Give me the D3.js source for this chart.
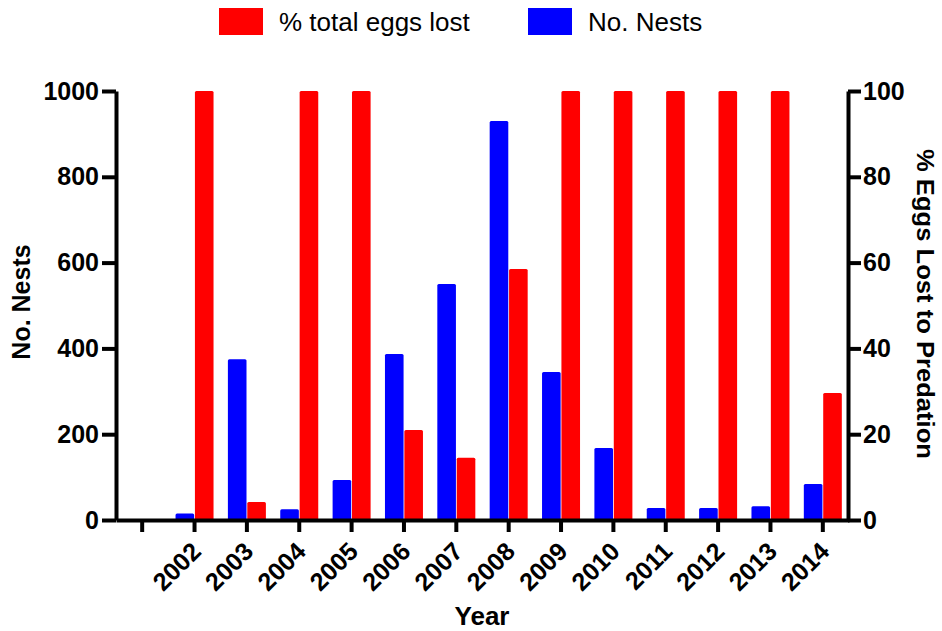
<!DOCTYPE html>
<html>
<head>
<meta charset="utf-8">
<script src="https://cdn.jsdelivr.net/npm/d3@7"></script>
<style>
  body { margin: 0; background: #fff; }
  svg { font-family: "Liberation Sans", Arial, sans-serif; }
</style>
</head>
<body>
<div class="chart"></div>
<script>
// categories (first slot is an empty year, no bars)
var years = ['', '2002', '2003', '2004', '2005', '2006', '2007', '2008', '2009', '2010', '2011', '2012', '2013', '2014'];
// No. Nests (left axis)
var nests = [null, 15, 375, 25, 93, 387, 550, 930, 345, 168, 28, 28, 32, 84];
// % total eggs lost (right axis)
var eggsLost = [null, 100, 4.2, 100, 100, 21, 14.5, 58.5, 100, 100, 100, 100, 100, 29.6];
var seriesNames = ['No. Nests', '% total eggs lost'];
var leftTicks = [0, 200, 400, 600, 800, 1000];
var rightTicks = [0, 20, 40, 60, 80, 100];

var W = 942, H = 631;
var colors = { 'No. Nests': '#0000ff', '% total eggs lost': '#ff0000' };

var svg = d3.select('.chart')
    .append('svg')
    .attr('width', W)
    .attr('height', H);

var x = d3.scaleBand().domain(years).range([116, 849]);
var xSub = d3.scaleBand().domain(seriesNames).range([-19, 19]).paddingInner(0.04);
var yLeft = d3.scaleLinear().domain([0, 1000]).range([520, 91]);
var yRight = d3.scaleLinear().domain([0, 100]).range([520, 91]);

var rows = years.map(function(y, i) {
    return { year: y, nests: nests[i], eggs: eggsLost[i] };
});

// bars
var groups = svg.selectAll('g.year')
    .data(rows)
    .enter()
    .append('g')
    .attr('class', 'year')
    .attr('transform', function(d) { return 'translate(' + (x(d.year) + x.bandwidth() / 2) + ',0)'; });

groups.filter(function(d) { return d.nests != null; })
    .append('rect')
    .attr('x', xSub('No. Nests'))
    .attr('width', xSub.bandwidth())
    .attr('y', function(d) { return yLeft(d.nests); })
    .attr('height', function(d) { return yLeft(0) - yLeft(d.nests); })
    .attr('rx', 1.5)
    .attr('fill', colors['No. Nests']);

groups.filter(function(d) { return d.eggs != null; })
    .append('rect')
    .attr('x', xSub('% total eggs lost'))
    .attr('width', xSub.bandwidth())
    .attr('y', function(d) { return yRight(d.eggs); })
    .attr('height', function(d) { return yRight(0) - yRight(d.eggs); })
    .attr('rx', 1.5)
    .attr('fill', colors['% total eggs lost']);

function styleAxis(g) {
    g.selectAll('path.domain').attr('stroke', '#000').attr('stroke-width', 4);
    g.selectAll('.tick line').attr('stroke', '#000').attr('stroke-width', 4);
    g.selectAll('.tick text')
        .attr('fill', '#000')
        .style('font-size', '25px')
        .style('font-weight', 'bold')
        .style('font-family', '"Liberation Sans", Arial, sans-serif');
}

// bottom axis
var xAxis = svg.append('g')
    .attr('transform', 'translate(0,520)')
    .call(d3.axisBottom(x).tickSize(12).tickSizeOuter(0).tickFormat(''));
styleAxis(xAxis);

xAxis.selectAll('.tick')
    .append('text')
    .attr('text-anchor', 'end')
    .attr('transform', 'translate(8,33) rotate(-45)')
    .attr('fill', '#000')
    .style('font-size', '25px')
    .style('font-weight', 'bold')
    .text(function(d) { return d; });

// left axis
var leftAxis = svg.append('g')
    .attr('transform', 'translate(116,0)')
    .call(d3.axisLeft(yLeft).tickValues(leftTicks).tickFormat(d3.format('d'))
        .tickSize(14).tickSizeOuter(0).tickPadding(3));
styleAxis(leftAxis);

// right axis
var rightAxis = svg.append('g')
    .attr('transform', 'translate(848,0)')
    .call(d3.axisRight(yRight).tickValues(rightTicks).tickFormat(d3.format('d'))
        .tickSize(13).tickSizeOuter(0).tickPadding(2));
styleAxis(rightAxis);

// axis titles
svg.append('text')
    .attr('transform', 'translate(30,302) rotate(-90)')
    .attr('text-anchor', 'middle')
    .style('font-size', '25px')
    .style('font-weight', 'bold')
    .text('No. Nests');

svg.append('text')
    .attr('transform', 'translate(917,304) rotate(90)')
    .attr('text-anchor', 'middle')
    .attr('textLength', 310)
    .attr('lengthAdjust', 'spacingAndGlyphs')
    .style('font-size', '24px')
    .style('font-weight', 'bold')
    .text('% Eggs Lost to Predation');

svg.append('text')
    .attr('x', 482)
    .attr('y', 625)
    .attr('text-anchor', 'middle')
    .style('font-size', '26px')
    .style('font-weight', 'bold')
    .text('Year');

// legend
var legendItems = [
    { name: '% total eggs lost', x: 219 },
    { name: 'No. Nests', x: 528 }
];
var legend = svg.selectAll('g.legend')
    .data(legendItems)
    .enter()
    .append('g')
    .attr('class', 'legend')
    .attr('transform', function(d) { return 'translate(' + d.x + ',0)'; });

legend.append('rect')
    .attr('x', 0)
    .attr('y', 8)
    .attr('width', 44)
    .attr('height', 27)
    .attr('fill', function(d) { return colors[d.name]; });

legend.append('text')
    .attr('x', 60)
    .attr('y', 31)
    .style('font-size', '26px')
    .text(function(d) { return d.name; });
</script>
</body>
</html>
